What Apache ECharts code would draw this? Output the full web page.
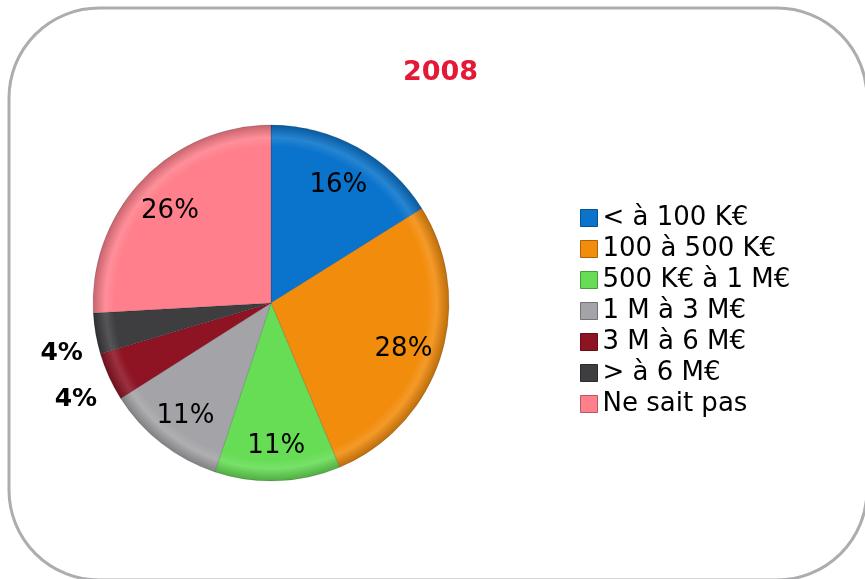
<!DOCTYPE html>
<html>
<head>
<meta charset="utf-8">
<script src="https://cdn.jsdelivr.net/npm/echarts@6/dist/echarts.min.js"></script>
<style>
  html, body { margin: 0; padding: 0; background: #fff; }
  #chart { width: 865px; height: 579px; }
</style>
</head>
<body>
<div id="chart"></div>
<script>
// tranches, dans l'ordre du camembert (sens horaire depuis midi)
const categories = ["< à 100 K€", "100 à 500 K€", "500 K€ à 1 M€", "1 M à 3 M€", "3 M à 6 M€", "> à 6 M€", "Ne sait pas"];
const shares = [16.1, 27.6, 11.4, 10.9, 4.4, 3.7, 25.9];
const colors = ["#0a74cc", "#f28c0c", "#66dd55", "#a4a4a8", "#8e1424", "#3e3e40", "#ff808c"];
const title = "2008";

const CX = 271, CY = 303, R = 178;
const font = "DejaVu Sans, Verdana, sans-serif";

function shade(hex, f) {
  const n = parseInt(hex.slice(1), 16);
  let r = (n >> 16) & 255, g = (n >> 8) & 255, b = n & 255;
  const m = (c) => Math.max(0, Math.min(255, Math.round(f < 0 ? c * (1 + f) : c + (255 - c) * f)));
  return "rgb(" + m(r) + "," + m(g) + "," + m(b) + ")";
}

function bevel(c) {
  return {
    type: "radial", x: CX, y: CY, r: R, global: true,
    colorStops: [
      { offset: 0, color: c },
      { offset: 0.88, color: c },
      { offset: 0.93, color: shade(c, 0.12) },
      { offset: 1, color: shade(c, -0.22) },
    ],
  };
}

const chart = echarts.init(document.getElementById("chart"));
chart.setOption({
  animation: false,
  color: colors,
  title: {
    text: title,
    left: 398,
    top: 54,
    textStyle: { color: "#e31937", fontSize: 27, fontWeight: "bold", fontFamily: font },
  },
  legend: {
    orient: "vertical",
    left: 580,
    top: 205,
    padding: 0,
    itemWidth: 17,
    itemHeight: 17,
    itemGap: 5,
    icon: "rect",
    textStyle: { fontSize: 26, color: "#000", fontFamily: font },
    data: categories.map((name, i) => ({
      name,
      itemStyle: { color: colors[i], borderColor: shade(colors[i], -0.3), borderWidth: 1 },
    })),
  },
  graphic: [{
    type: "rect",
    shape: { x: 9, y: 8, width: 858, height: 572, r: 90 },
    style: { fill: "none", stroke: "#adadb0", lineWidth: 3 },
    silent: true,
  }],
  series: [
    {
      type: "pie",
      center: [CX, CY],
      radius: [0, R],
      startAngle: 90,
      avoidLabelOverlap: false,
      itemStyle: { borderColor: "rgba(0,0,0,0.15)", borderWidth: 1 },
      label: { show: false },
      labelLine: { show: false },
      labelLayout: { dx: 4, dy: 18 },
      data: categories.map((name, i) => ({
        name, value: shares[i],
        itemStyle: { color: bevel(colors[i]) },
        label: shares[i] < 8 ? {
          show: true, position: "outside",
          formatter: (p) => Math.round(p.value) + "%",
          fontSize: 25, fontWeight: "bold", color: "#000", fontFamily: font,
        } : { show: false },
        labelLine: { show: false, length: 12, length2: 0 },
      })),
    },
    {
      type: "pie",
      center: [CX, CY],
      radius: [94, R],
      startAngle: 90,
      silent: true,
      legendHoverLink: false,
      itemStyle: { color: "transparent" },
      labelLine: { show: false },
      labelLayout: { dy: 4 },
      data: categories.map((name, i) => ({
        name, value: shares[i],
        label: shares[i] >= 8 ? {
          show: true, position: "inside",
          formatter: (p) => Math.round(p.value) + "%",
          fontSize: 26, color: "#000", fontFamily: font,
        } : { show: false },
      })),
    },
  ],
});
</script>
</body>
</html>
